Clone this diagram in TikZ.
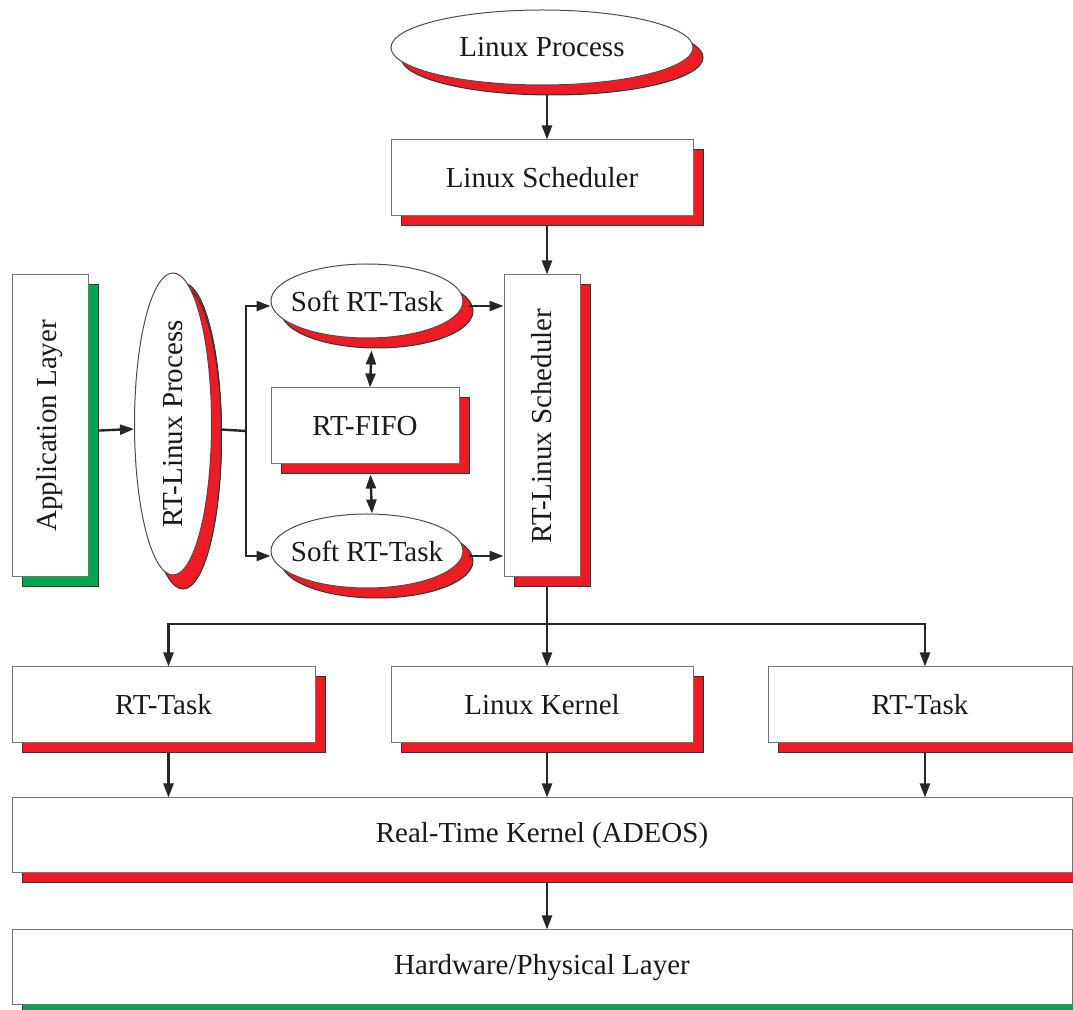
\documentclass[tikz,border=0pt]{standalone}
\usepackage{graphicx}
\usepackage{fontspec}
\setmainfont{Liberation Serif}
\usepackage{tikz}
\usetikzlibrary{shapes.geometric,shadows,arrows.meta}
\definecolor{shadowred}{RGB}{237,28,36}
\definecolor{shadowgreen}{RGB}{0,166,81}
\newcommand{\snug}[1]{\makebox[0pt]{#1}}

\begin{document}
\begin{tikzpicture}[x=0.5pt, y=-0.5pt,
    every node/.style={font=\fontsize{14.5}{17}\selectfont, text=black!90, inner sep=0pt},
    box/.style={rectangle, draw=black!55, fill=white, line width=0.5pt,
      drop shadow={shadow xshift=5pt, shadow yshift=-5pt, fill=#1, draw=black!80, opacity=1}},
    box/.default=shadowred,
    oval/.style={ellipse, draw=black!70, fill=white, line width=0.5pt,
      drop shadow={shadow xshift=5pt, shadow yshift=-5pt, fill=shadowred, draw=black!80, opacity=1}},
    link/.style={line width=1.2pt, draw=black!85},
    arrow/.style={link, -{Triangle[length=7pt,width=5pt]}},
    dblarrow/.style={link, {Triangle[length=7pt,width=5pt]}-{Triangle[length=7pt,width=5pt]}}]
  \useasboundingbox (0,0) rectangle (1073,1010);

  \node[oval, minimum width=151pt, minimum height=37.5pt] (lproc) at (542,47.5) {\snug{Linux Process}};
  \node[box, minimum width=151pt, minimum height=38pt] (lsched) at (542,178) {Linux Scheduler};
  \node[box=shadowgreen, minimum width=38pt, minimum height=151pt] (app) at (50,426) {\rotatebox{90}{Application Layer}};
  \node[oval, minimum width=38.5pt, minimum height=151pt, drop shadow={shadow xshift=5pt, shadow yshift=-7pt, fill=shadowred, draw=black!80, opacity=1}] (rtproc) at (173,424) {\rotatebox{90}{\snug{RT-Linux Process}}};
  \node[oval, minimum width=96pt, minimum height=37pt] (soft1) at (367,301) {\snug{Soft RT-Task}};
  \node[box, minimum width=94pt, minimum height=38pt] (fifo) at (365,426) {RT-FIFO};
  \node[oval, minimum width=96pt, minimum height=37pt] (soft2) at (367,551) {\snug{Soft RT-Task}};
  \node[box, minimum width=38pt, minimum height=151pt] (rtsched) at (542,426) {\rotatebox{90}{RT-Linux Scheduler}};
  \node[box, minimum width=151.5pt, minimum height=38pt] (rttask1) at (163.5,705) {RT-Task};
  \node[box, minimum width=151pt, minimum height=38pt] (lkernel) at (542,705) {Linux Kernel};
  \node[box, minimum width=152pt, minimum height=38pt] (rttask2) at (920,705) {RT-Task};
  \node[box, minimum width=530pt, minimum height=37.5pt] (rtk) at (542,835.5) {Real-Time Kernel (ADEOS)};
  \node[box=shadowgreen, minimum width=530pt, minimum height=37.5pt] (hw) at (542,967.5) {Hardware/Physical Layer};

  \coordinate (fork) at (246,431);
  \coordinate (bus) at (547,624);

  \draw[arrow, shorten <=5pt] ([xshift=2.5pt]lproc.south) -- ([xshift=2.5pt]lsched.north);
  \draw[arrow, shorten <=5pt] ([xshift=2.5pt]lsched.south) -- ([xshift=2.5pt]rtsched.north);
  \draw[arrow, shorten <=5pt] ([yshift=-2.5pt]app.east) -- ([yshift=-2.5pt]rtproc.west);
  \draw[link, shorten <=4pt] ([yshift=-2.5pt]rtproc.east) -- (fork);
  \draw[arrow] (fork) |- ([yshift=-2.5pt]soft1.west);
  \draw[arrow] (fork) |- ([yshift=-2.5pt]soft2.west);
  \draw[arrow, shorten <=2.5pt] ([yshift=-2.5pt]soft1.east) -- ([yshift=-2.5pt]soft1.east -| rtsched.west);
  \draw[arrow, shorten <=2.5pt] ([yshift=-2.5pt]soft2.east) -- ([yshift=-2.5pt]soft2.east -| rtsched.west);
  \draw[dblarrow, shorten <=6pt] ([xshift=2.5pt]soft1.south) -- ([xshift=2.5pt]fifo.north);
  \draw[dblarrow, shorten <=5pt] ([xshift=2.5pt]fifo.south) -- ([xshift=2.5pt]soft2.north);
  \draw[link, shorten <=5pt] ([xshift=2.5pt]rtsched.south) -- (bus);
  \draw[arrow] (bus) -- ([xshift=2.5pt]lkernel.north);
  \draw[arrow] (bus) -| ([xshift=2.5pt]rttask1.north);
  \draw[arrow] (bus) -| ([xshift=2.5pt]rttask2.north);
  \foreach \t in {rttask1,lkernel,rttask2}
    \draw[arrow, shorten <=5pt] ([xshift=2.5pt]\t.south) -- ([xshift=2.5pt]\t.south |- rtk.north);
  \draw[arrow, shorten <=5pt] ([xshift=2.5pt]rtk.south) -- ([xshift=2.5pt]hw.north);
\end{tikzpicture}
\end{document}
